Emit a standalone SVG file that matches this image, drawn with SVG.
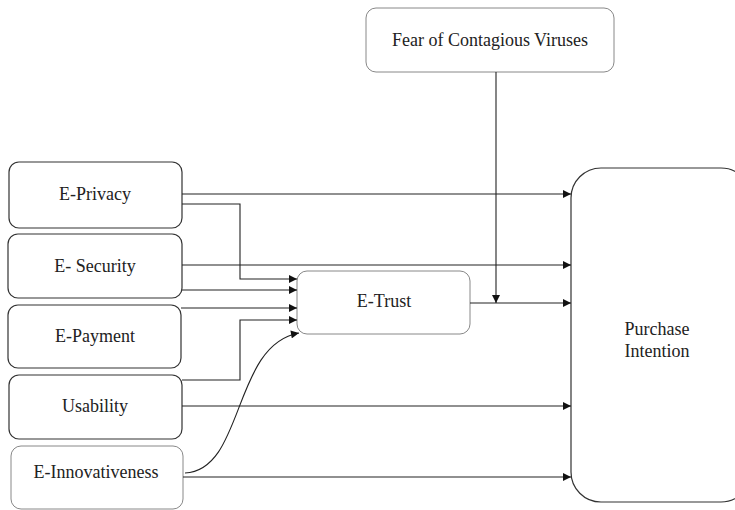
<svg xmlns="http://www.w3.org/2000/svg" width="735" height="510" viewBox="0 0 735 510">
<style>
.box{fill:#fff;stroke:#333;stroke-width:1.2}
.lbox{fill:#fff;stroke:#888;stroke-width:1}
text{font-family:'Liberation Serif','DejaVu Serif','Times New Roman',Times,serif;font-size:18px;fill:#222;text-anchor:middle}
.c{fill:none;stroke:#222;stroke-width:1.1}
</style>
<defs>
<marker id="a" viewBox="0 0 10 10" refX="10" refY="5" markerWidth="10" markerHeight="8" markerUnits="userSpaceOnUse" orient="auto">
<path d="M0,0 L10,5 L0,10 Z" fill="#111"/>
</marker>
</defs>
<rect width="735" height="510" fill="#fff"/>
<g font-family="Liberation Serif, DejaVu Serif, serif">
<g id="fear"><rect class="lbox" x="366" y="8" width="248" height="64" rx="10"/><text x="490" y="46">Fear of Contagious Viruses</text></g>
<g id="eprivacy"><rect class="box" x="9" y="162" width="173" height="66" rx="10"/><text x="95" y="200">E-Privacy</text></g>
<g id="esecurity"><rect class="box" x="8" y="234" width="174" height="64" rx="10"/><text x="95" y="272">E- Security</text></g>
<g id="epayment"><rect class="box" x="8" y="305" width="173" height="63" rx="10"/><text x="95" y="342">E-Payment</text></g>
<g id="usability"><rect class="box" x="9" y="375" width="173" height="64" rx="10"/><text x="95" y="412">Usability</text></g>
<g id="einnov"><rect class="lbox" x="11" y="446" width="172" height="63" rx="10"/><text x="96" y="478">E-Innovativeness</text></g>
<g id="etrust"><rect class="lbox" x="297" y="271" width="173" height="63" rx="10"/><text x="384" y="307">E-Trust</text></g>
<g id="purchase"><rect class="box" x="571" y="168" width="180" height="334" rx="30"/><text x="657" y="335">Purchase</text><text x="657" y="357">Intention</text></g>
</g>
<g id="connectors">
<path class="c" d="M182,194 H571" marker-end="url(#a)"/>
<path class="c" d="M182,204 H240 V279 H297" marker-end="url(#a)"/>
<path class="c" d="M182,265 H571" marker-end="url(#a)"/>
<path class="c" d="M182,290 H297" marker-end="url(#a)"/>
<path class="c" d="M181,308 H297" marker-end="url(#a)"/>
<path class="c" d="M182,380 H240 V320 H297" marker-end="url(#a)"/>
<path class="c" d="M182,406 H571" marker-end="url(#a)"/>
<path class="c" d="M185,473 C245,470 232,345 299,333" marker-end="url(#a)"/>
<path class="c" d="M183,477 H571" marker-end="url(#a)"/>
<path class="c" d="M470,303 H571" marker-end="url(#a)"/>
<path class="c" d="M496,72 V303" marker-end="url(#a)"/>
</g>
</svg>
